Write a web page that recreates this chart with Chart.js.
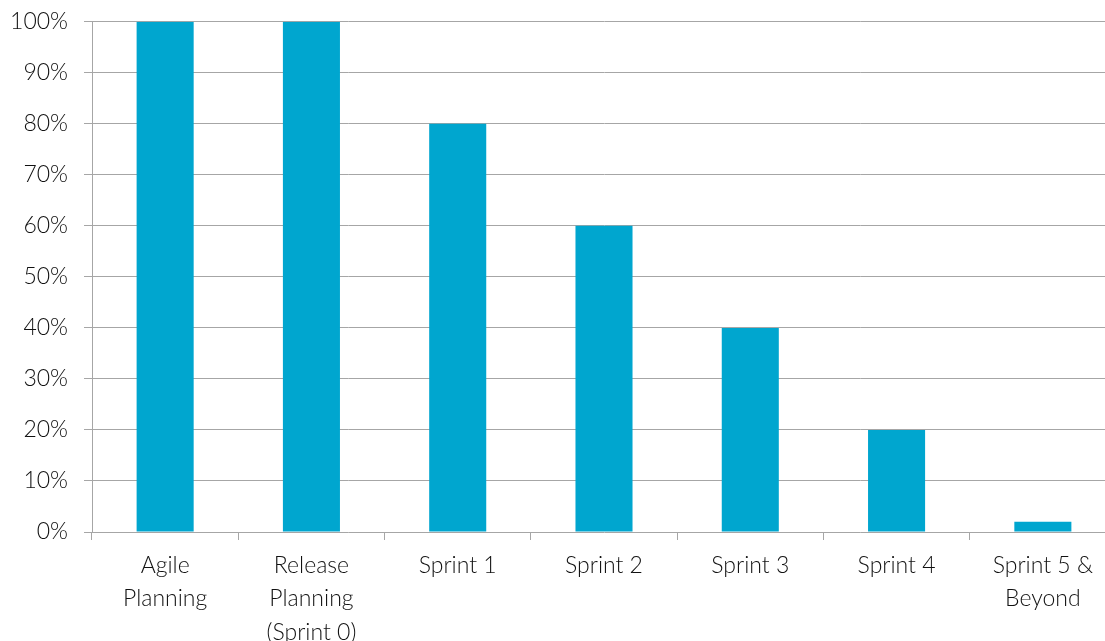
<!DOCTYPE html>
<html>
<head>
<meta charset="utf-8">
<script src="https://cdn.jsdelivr.net/npm/chart.js@4/dist/chart.umd.min.js"></script>
<style>
  html, body { margin: 0; padding: 0; background: #fff; overflow: hidden; }
  #wrap { width: 1116px; height: 641px; }
</style>
</head>
<body>
<div id="wrap"><canvas id="barChart"></canvas></div>
<script>
        // Data
        const categories = [['Agile', 'Planning'], ['Release', 'Planning', '(Sprint 0)'], 'Sprint 1', 'Sprint 2', 'Sprint 3', 'Sprint 4', ['Sprint 5 &', 'Beyond']];
        const percentValues = [100, 100, 80, 60, 40, 20, 2];
        const yTicks = [0, 10, 20, 30, 40, 50, 60, 70, 80, 90, 100];

        const fontFamily = 'Lato, "Open Sans", sans-serif';
        const gridColor = '#a6a6a6';

        new Chart(document.getElementById('barChart'), {
            type: 'bar',
            data: {
                labels: categories,
                datasets: [{
                    label: 'Progress',
                    data: percentValues,
                    backgroundColor: '#00a6cf',
                    barPercentage: 0.39,
                    categoryPercentage: 1.0,
                }]
            },
            options: {
                responsive: true,
                maintainAspectRatio: false,
                animation: false,
                layout: { padding: { top: 21, left: 0, right: 0, bottom: 0 } },
                plugins: { legend: { display: false }, tooltip: { enabled: false } },
                scales: {
                    x: {
                        grid: { display: true, drawOnChartArea: false, color: gridColor, tickLength: 8, offset: true },
                        border: { display: false },
                        ticks: { color: '#111', font: { family: fontFamily, size: 23, weight: 300, lineHeight: 1.45 }, padding: 9, maxRotation: 0, autoSkip: false },
                        afterFit: s => { s.height = 109; }
                    },
                    y: {
                        min: 0, max: 100,
                        afterBuildTicks: s => { s.ticks = yTicks.map(v => ({ value: v })); },
                        grid: { color: gridColor, tickLength: 8, lineWidth: 1 },
                        border: { display: true, color: gridColor },
                        ticks: { color: '#111', font: { family: fontFamily, size: 23, weight: 300, lineHeight: 0.5 }, padding: 16, callback: v => v + '%' },
                        afterFit: s => { s.width = 92; }
                    }
                }
            }
        });
</script>
</body>
</html>
